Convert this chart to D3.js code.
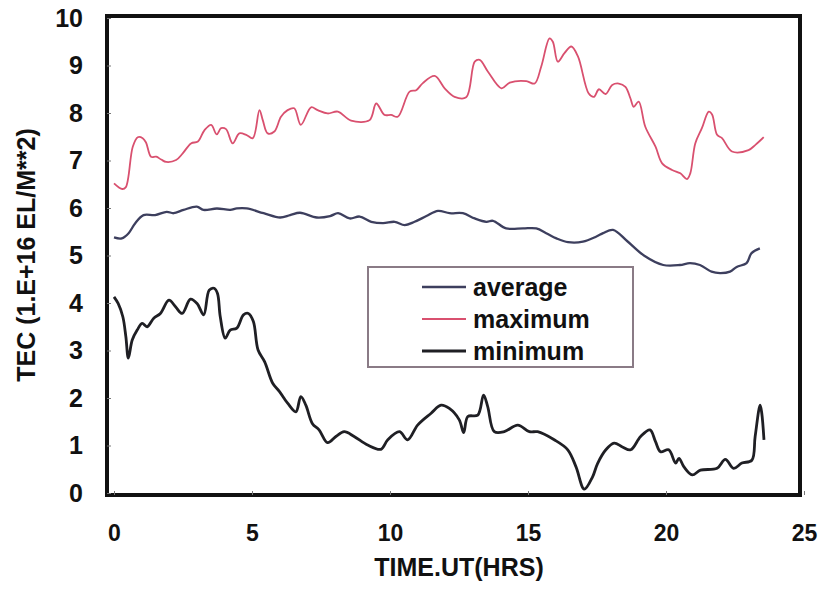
<!DOCTYPE html>
<html>
<head>
<meta charset="utf-8">
<script src="https://cdn.jsdelivr.net/npm/d3@7"></script>
<style>
	body { margin: 0; background: #fff; }
	svg { display: block; }
</style>
</head>
<body>
<div id="chart"></div>
<script>
//	TEC data (hours UT, 1E16 el/m^2)
var maxT = [0, 0.3, 0.43, 0.68, 0.86, 1.04, 1.16, 1.34, 1.53, 1.71, 1.89, 2.25, 2.49, 2.79, 3.04, 3.28, 3.52, 3.72, 3.88, 4.06, 4.3, 4.54, 4.79, 5.03, 5.27, 5.39, 5.57, 5.81, 6.05, 6.29, 6.53, 6.77, 7.14, 7.38, 7.74, 8.11, 8.59, 9.26, 9.5, 9.8, 10.04, 10.28, 10.71, 10.95, 11.19, 11.62, 11.98, 12.34, 12.76, 13.07, 13.25, 13.55, 14.04, 14.34, 14.94, 15.24, 15.48, 15.78, 15.9, 16.08, 16.32, 16.57, 16.81, 17.2, 17.39, 17.57, 17.81, 18.05, 18.29, 18.53, 18.71, 18.83, 19.01, 19.25, 19.62, 19.86, 20.22, 20.52, 20.76, 20.88, 21.06, 21.3, 21.55, 21.67, 21.85, 22.03, 22.39, 22.99, 23.24, 23.54];
var maxV = [6.52, 6.4, 6.44, 7.29, 7.49, 7.47, 7.38, 7.08, 7.08, 7.02, 6.97, 7.01, 7.15, 7.36, 7.4, 7.64, 7.75, 7.55, 7.68, 7.66, 7.36, 7.57, 7.54, 7.47, 8.06, 7.85, 7.57, 7.61, 7.92, 8.06, 8.1, 7.75, 8.12, 8.06, 7.99, 8.03, 7.84, 7.85, 8.2, 7.96, 7.96, 7.92, 8.45, 8.48, 8.63, 8.78, 8.52, 8.34, 8.33, 9.08, 9.12, 8.87, 8.52, 8.64, 8.67, 8.62, 8.98, 9.57, 9.5, 9.08, 9.26, 9.4, 9.19, 8.41, 8.34, 8.5, 8.4, 8.59, 8.62, 8.55, 8.31, 8.13, 8.24, 7.71, 7.29, 6.94, 6.8, 6.73, 6.61, 6.73, 7.36, 7.68, 8.03, 7.97, 7.54, 7.47, 7.19, 7.22, 7.33, 7.49];

var avgT = [0, 0.28, 0.53, 0.77, 1.07, 1.49, 1.91, 2.16, 2.52, 3.0, 3.24, 3.73, 4.21, 4.45, 4.81, 5.42, 6.02, 6.38, 6.74, 7.35, 7.83, 8.12, 8.54, 8.9, 9.32, 9.75, 10.17, 10.53, 10.89, 11.32, 11.74, 12.16, 12.64, 13.07, 13.49, 13.73, 14.21, 14.82, 15.3, 15.66, 16.03, 16.45, 16.99, 17.48, 17.72, 18.08, 18.6, 19.2, 19.9, 20.5, 20.87, 21.23, 21.65, 21.96, 22.32, 22.56, 22.92, 23.1, 23.4];
var avgV = [5.38, 5.36, 5.47, 5.68, 5.85, 5.85, 5.92, 5.89, 5.96, 6.03, 5.96, 5.99, 5.96, 5.99, 5.99, 5.89, 5.8, 5.85, 5.9, 5.8, 5.83, 5.89, 5.78, 5.82, 5.71, 5.68, 5.71, 5.64, 5.71, 5.83, 5.94, 5.89, 5.89, 5.78, 5.71, 5.73, 5.57, 5.57, 5.57, 5.47, 5.36, 5.28, 5.29, 5.4, 5.47, 5.54, 5.3, 5.0, 4.8, 4.8, 4.84, 4.8, 4.66, 4.63, 4.66, 4.76, 4.84, 5.05, 5.15];

var minT = [0, 0.15, 0.32, 0.43, 0.52, 0.66, 0.84, 1.02, 1.2, 1.44, 1.68, 1.99, 2.23, 2.47, 2.77, 3.01, 3.25, 3.45, 3.63, 3.75, 3.85, 4.03, 4.21, 4.45, 4.69, 4.87, 5.05, 5.22, 5.46, 5.75, 5.99, 6.29, 6.59, 6.77, 6.95, 7.19, 7.43, 7.74, 8.04, 8.34, 8.7, 9.19, 9.67, 9.92, 10.34, 10.64, 11.0, 11.49, 11.85, 12.15, 12.51, 12.67, 12.82, 13.18, 13.39, 13.54, 13.78, 14.14, 14.63, 15.05, 15.35, 15.95, 16.44, 16.74, 17.04, 17.34, 17.52, 17.82, 18.12, 18.42, 18.72, 19.08, 19.42, 19.62, 19.8, 20.1, 20.35, 20.47, 20.65, 20.95, 21.25, 21.85, 22.15, 22.45, 22.75, 23.11, 23.23, 23.41, 23.47, 23.55];
var minV = [4.13, 3.99, 3.71, 3.29, 2.84, 3.22, 3.43, 3.57, 3.5, 3.68, 3.78, 4.06, 3.92, 3.78, 4.08, 3.99, 3.75, 4.27, 4.31, 4.2, 3.71, 3.26, 3.43, 3.47, 3.75, 3.78, 3.61, 3.01, 2.76, 2.31, 2.14, 1.89, 1.71, 2.03, 1.85, 1.46, 1.33, 1.06, 1.19, 1.29, 1.19, 1.01, 0.92, 1.12, 1.29, 1.12, 1.43, 1.68, 1.85, 1.78, 1.54, 1.27, 1.61, 1.64, 2.06, 1.82, 1.29, 1.29, 1.43, 1.29, 1.29, 1.12, 0.91, 0.55, 0.08, 0.34, 0.62, 0.91, 1.05, 0.97, 0.91, 1.19, 1.33, 1.08, 0.87, 0.91, 0.63, 0.73, 0.55, 0.38, 0.48, 0.52, 0.71, 0.52, 0.63, 0.69, 1.19, 1.85, 1.68, 1.12];

var xTicks = [0, 5, 10, 15, 20, 25];
var yTicks = [0, 1, 2, 3, 4, 5, 6, 7, 8, 9, 10];
var seriesNames = ["average", "maximum", "minimum"];

draw();

function draw() {
	var W = 819, H = 598;
	var frameL = 107, frameR = 800, frameT = 16, frameB = 495;
	var font = "'Liberation Sans', Arial, sans-serif";

	var svg = d3.select("#chart")
		.append("svg")
		.attr("width", W)
		.attr("height", H);

	var x = d3.scaleLinear().domain([0, 25]).range([114, 804]);
	var y = d3.scaleLinear().domain([0, 10]).range([493, 18]);

	var colors = {
		average: "#3d3f5e",
		maximum: "#d9506f",
		minimum: "#1f1f24"
	};
	var widths = { average: 2.3, maximum: 1.8, minimum: 2.8 };

	//	Curves
	var line = d3.line()
		.x(function(d) { return x(d[0]); })
		.y(function(d) { return y(d[1]); })
		.curve(d3.curveCatmullRom.alpha(0.5));

	var data = {
		average: d3.zip(avgT, avgV),
		maximum: d3.zip(maxT, maxV),
		minimum: d3.zip(minT, minV)
	};

	seriesNames.forEach(function(name) {
		svg.append("path")
			.datum(data[name])
			.attr("d", line)
			.attr("fill", "none")
			.attr("stroke", colors[name])
			.attr("stroke-width", widths[name])
			.attr("stroke-linejoin", "round");
	});

	//	Frame
	svg.append("rect")
		.attr("x", frameL)
		.attr("y", frameT)
		.attr("width", frameR - frameL)
		.attr("height", frameB - frameT)
		.attr("fill", "none")
		.attr("stroke", "#111")
		.attr("stroke-width", 4);

	//	X axis
	var xAxis = svg.append("g")
		.attr("transform", "translate(0," + frameB + ")")
		.call(d3.axisBottom(x).tickValues(xTicks).tickSize(-4).tickPadding(30));
	xAxis.select(".domain").remove();
	xAxis.selectAll(".tick line").attr("stroke", "#777").attr("stroke-width", 1);
	xAxis.selectAll(".tick text")
		.attr("fill", "#111")
		.style("font-family", font)
		.style("font-weight", "bold")
		.style("font-size", "23px");

	//	Y axis
	var yAxis = svg.append("g")
		.attr("transform", "translate(" + frameL + ",0)")
		.call(d3.axisLeft(y).tickValues(yTicks).tickSize(-4).tickPadding(24));
	yAxis.select(".domain").remove();
	yAxis.selectAll(".tick line").attr("stroke", "#777").attr("stroke-width", 1);
	yAxis.selectAll(".tick text")
		.attr("fill", "#111")
		.style("font-family", font)
		.style("font-weight", "bold")
		.style("font-size", "25px");

	//	Axis titles
	svg.append("text")
		.attr("x", 459)
		.attr("y", 576)
		.attr("text-anchor", "middle")
		.attr("fill", "#111")
		.style("font-family", font)
		.style("font-weight", "bold")
		.style("font-size", "25px")
		.text("TIME.UT(HRS)");

	svg.append("text")
		.attr("transform", "translate(35,255) rotate(-90)")
		.attr("text-anchor", "middle")
		.attr("fill", "#111")
		.style("font-family", font)
		.style("font-weight", "bold")
		.style("font-size", "25px")
		.text("TEC (1.E+16 EL/M**2)");

	//	Legend
	var legend = svg.append("g");
	legend.append("rect")
		.attr("x", 368)
		.attr("y", 267)
		.attr("width", 265)
		.attr("height", 100)
		.attr("fill", "#fff")
		.attr("stroke", "#8a7b86")
		.attr("stroke-width", 2);

	seriesNames.forEach(function(name, i) {
		var ly = 287 + i * 32;
		legend.append("line")
			.attr("x1", 422)
			.attr("x2", 466)
			.attr("y1", ly)
			.attr("y2", ly)
			.attr("stroke", colors[name])
			.attr("stroke-width", widths[name]);
		legend.append("text")
			.attr("x", 473)
			.attr("y", ly + 9)
			.attr("fill", "#111")
			.style("font-family", font)
			.style("font-weight", "bold")
			.style("font-size", "25px")
			.text(name);
	});
}
</script>
</body>
</html>
